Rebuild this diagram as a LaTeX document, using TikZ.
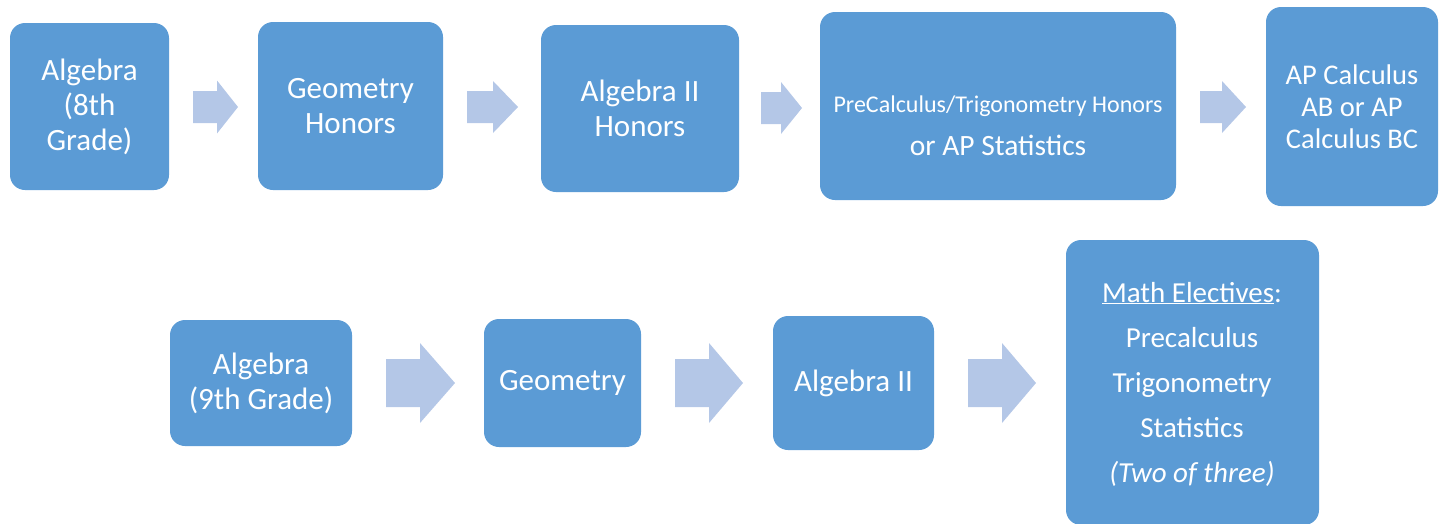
\documentclass[tikz,border=0pt]{standalone}
\usepackage{fontspec}
\setmainfont{Carlito}
\definecolor{boxblue}{HTML}{5B9BD5}
\definecolor{arrowblue}{HTML}{B4C7E7}
\tikzset{
  box/.style={fill=boxblue, rounded corners=15pt, inner sep=0pt, text=white, align=center},
  boxtext/.style={inner sep=0pt, text=white, align=center},
  blockarrow/.style={fill=arrowblue, draw=none}
}
% \barrow{shaft start}{head start}{tip}{center y}{shaft half}{head half}
\newcommand{\barrow}[6]{%
  \fill[blockarrow] (#1,#4-#5) -- (#2,#4-#5) -- (#2,#4-#6) -- (#3,#4) -- (#2,#4+#6) -- (#2,#4+#5) -- (#1,#4+#5) -- cycle;}
\begin{document}
\begin{tikzpicture}[x=1pt,y=-1pt]
\useasboundingbox (0,0) rectangle (1440,523);
\clip (0,0) rectangle (1440,523);
% top row
\node[box, minimum width=159pt, minimum height=167pt, font=\fontsize{31}{35}\selectfont] (alg8) at (89.5,106.5) {Algebra\\(8th\\Grade)};
\node[box, minimum width=185pt, minimum height=168pt, font=\fontsize{31}{35}\selectfont] (geoh) at (350.5,106) {Geometry\\Honors};
\node[box, minimum width=198pt, minimum height=167pt, font=\fontsize{31}{35}\selectfont] (alg2h) at (640,108.5) {Algebra II\\Honors};
\node[box, minimum width=356pt, minimum height=188pt] (pre) at (998,106) {};
\node[boxtext] (pretext) at (998,126) {{\fontsize{24}{26}\selectfont PreCalculus/Trigonometry Honors}\\[17pt]{\fontsize{29.5}{30}\selectfont or AP Statistics}};
\node[box, minimum width=172pt, minimum height=199pt, font=\fontsize{28.5}{32}\selectfont] (apcalc) at (1352,106.5) {AP Calculus\\AB or AP\\Calculus BC};
% bottom row
\node[box, minimum width=182pt, minimum height=126pt, font=\fontsize{31}{35}\selectfont] (alg9) at (261,383) {Algebra\\(9th Grade)};
\node[box, minimum width=157pt, minimum height=128pt, font=\fontsize{31}{35}\selectfont] (geo) at (562.5,383) {Geometry};
\node[box, minimum width=161pt, minimum height=134pt, font=\fontsize{31}{35}\selectfont] (alg2) at (853.5,383) {Algebra II};
\node[box, minimum width=253pt, minimum height=285pt] (elec) at (1192.5,382.5) {};
\node[boxtext, font=\fontsize{29}{45}\selectfont] (electext) at (1192,384) {\underline{Math Electives}:\\Precalculus\\Trigonometry\\Statistics\\\textit{(Two of three)}};
% arrows top
\barrow{193}{217}{238}{107}{16}{26.5}
\barrow{467}{493}{518}{107}{16}{26}
\barrow{761}{781}{802}{108}{16}{26}
\barrow{1200}{1222}{1246}{107}{16}{26}
% arrows bottom
\barrow{386}{420}{455}{383}{24}{40}
\barrow{675}{709}{743}{383}{24}{40}
\barrow{968}{1002}{1036}{383}{24}{40}
\end{tikzpicture}
\end{document}
